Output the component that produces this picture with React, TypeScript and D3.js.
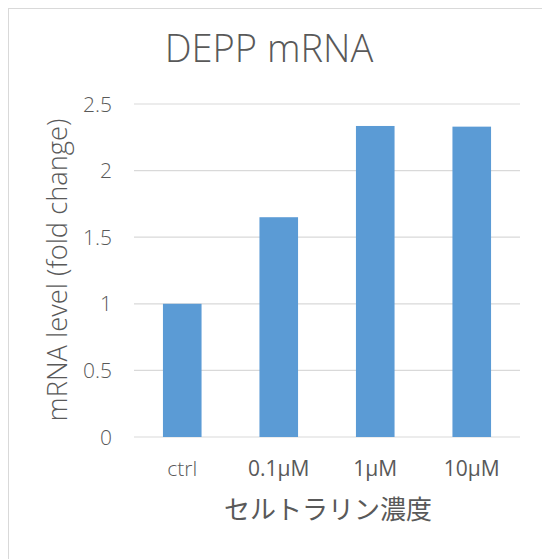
import React from "react";
import * as d3 from "d3";

const categories = ["ctrl", "0.1μM", "1μM", "10μM"];
const values = [1.0, 1.65, 2.335, 2.33];
const yTicks = [0, 0.5, 1, 1.5, 2, 2.5];
const yTickLabels = ["0", "0.5", "1", "1.5", "2", "2.5"];
const title = "DEPP mRNA";
const xTitle = "セルトラリン濃度";
const yTitle = "mRNA level (fold change)";

export default function App() {
  const W = 542, H = 559;
  const left = 134, right = 520, top = 104, bottom = 437;
  const x = d3.scaleBand<string>().domain(categories).range([left, right]).paddingInner(0.6).paddingOuter(0.3);
  const y = d3.scaleLinear().domain([0, 2.5]).range([bottom, top]);
  const font = "'Open Sans', 'Noto Sans CJK JP', sans-serif";
  const grey = "#595959";
  return (
    <svg width={W} height={H} style={{ position: "absolute", left: 0, top: 0, fontFamily: font }}>
      <rect x={0} y={0} width={W} height={H} fill="#fff" />
      <rect x={8.5} y={8.5} width={W + 20} height={H + 20} fill="none" stroke="#d9d9d9" />
      <text x={269} y={62} textAnchor="middle" fontSize={38} fill={grey} fontWeight={300}>{title}</text>
      {yTicks.map((t, i) => (
        <g key={i}>
          <line x1={left} x2={right} y1={y(t)} y2={y(t)} stroke="#d9d9d9" strokeWidth={1.2} />
          <text x={112} y={y(t)} dy="0.36em" textAnchor="end" fontSize={21} fill={grey} fontWeight={300}>{yTickLabels[i]}</text>
        </g>
      ))}
      {categories.map((c, i) => (
        <rect key={c} x={x(c)} y={y(values[i])} width={x.bandwidth()} height={bottom - y(values[i])} fill="#5B9BD5" />
      ))}
      {categories.map((c, i) => (
        <text key={c} x={(x(c) as number) + x.bandwidth() / 2} y={476} textAnchor="middle" fontSize={21} fill={grey} fontWeight={i === 0 ? 300 : 400}>{c}</text>
      ))}
      <text x={328} y={519} textAnchor="middle" fontSize={26} fill={grey} fontFamily="'Noto Sans CJK JP', sans-serif">{xTitle}</text>
      <text transform={`translate(67,270) rotate(-90)`} textAnchor="middle" fontSize={27.3} fill={grey} fontWeight={300}>{yTitle}</text>
    </svg>
  );
}
